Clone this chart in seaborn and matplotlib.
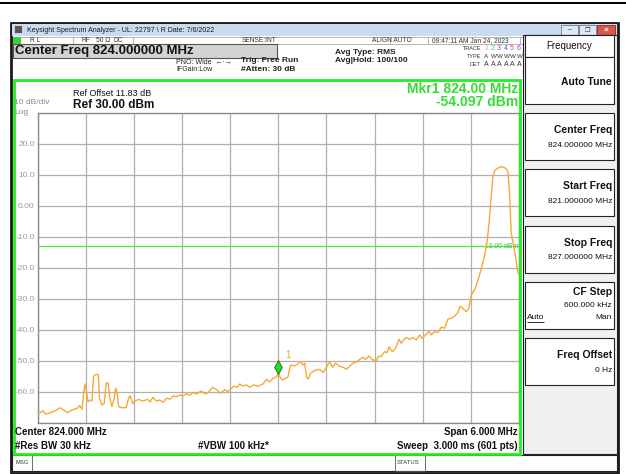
import matplotlib
matplotlib.use('Agg')
import matplotlib.pyplot as plt
import seaborn as sns
from matplotlib.patches import Rectangle
from matplotlib.path import Path

# trace 1 (MHz, dBm)
freq_mhz = [821.000, 821.068, 821.097, 821.159, 821.222, 821.284, 821.326, 821.376, 821.429, 821.492,
            821.525, 821.554, 821.575, 821.591, 821.607, 821.629, 821.657, 821.678, 821.700, 821.732,
            821.757, 821.774, 821.803, 821.832, 821.856, 821.878, 821.899, 821.927, 821.956, 821.973,
            821.990, 822.011, 822.052, 822.105, 822.135, 822.155, 822.185, 822.217, 822.260, 822.313,
            822.372, 822.404, 822.438, 822.479, 822.525, 822.566, 822.608, 822.649, 822.691, 822.733,
            822.774, 822.815, 822.857, 822.898, 822.940, 822.982, 823.023, 823.044, 823.085, 823.126,
            823.181, 823.231, 823.281, 823.334, 823.368, 823.405, 823.446, 823.487, 823.521, 823.562,
            823.604, 823.645, 823.695, 823.749, 823.811, 823.853, 823.894, 823.935, 823.978, 824.000,
            824.040, 824.060, 824.122, 824.152, 824.206, 824.276, 824.309, 824.330, 824.351, 824.371,
            824.401, 824.433, 824.476, 824.517, 824.558, 824.600, 824.641, 824.675, 824.716, 824.757,
            824.807, 824.849, 824.890, 824.931, 824.981, 825.015, 825.056, 825.089, 825.131, 825.173,
            825.223, 825.243, 825.285, 825.326, 825.355, 825.380, 825.422, 825.463, 825.504, 825.534,
            825.554, 825.596, 825.637, 825.678, 825.720, 825.762, 825.795, 825.836, 825.877, 825.907,
            825.948, 825.990, 826.032, 826.073, 826.114, 826.156, 826.197, 826.238, 826.268, 826.300,
            826.343, 826.375, 826.405, 826.446, 826.487, 826.530, 826.571, 826.600, 826.625, 826.650,
            826.674, 826.699, 826.736, 826.778, 826.819, 826.848, 826.861, 826.882, 826.903, 826.944,
            826.986, 827.000]
level_dbm = [-67.4, -66.0, -67.1, -66.7, -66.0, -65.1, -65.8, -66.7, -65.8, -65.3,
             -64.4, -65.6, -60.4, -57.4, -59.4, -63.1, -62.6, -62.9, -54.8, -54.3,
             -54.5, -62.0, -64.2, -63.7, -57.2, -57.0, -61.5, -64.7, -62.0, -58.8,
             -59.9, -64.7, -65.1, -65.0, -62.0, -61.2, -63.7, -62.9, -62.4, -62.9,
             -62.4, -63.2, -61.7, -62.9, -62.6, -63.3, -62.0, -62.3, -61.3, -61.5,
             -61.0, -61.2, -60.6, -61.0, -60.2, -60.6, -59.9, -59.7, -60.6, -60.2,
             -58.5, -59.2, -60.4, -59.2, -59.9, -59.2, -58.1, -58.5, -57.4, -58.1,
             -57.7, -58.5, -57.7, -58.1, -57.4, -55.9, -56.7, -55.6, -55.1, -54.1,
             -55.9, -56.1, -55.1, -51.3, -51.6, -50.2, -51.3, -50.7, -55.1, -55.9,
             -54.0, -53.4, -52.9, -52.7, -53.7, -52.0, -50.2, -52.0, -50.7, -51.6,
             -52.0, -52.7, -51.6, -50.7, -50.2, -49.5, -48.8, -49.5, -48.4, -49.5,
             -50.2, -48.6, -48.4, -47.0, -47.3, -45.4, -47.0, -45.9, -43.0, -44.3,
             -43.4, -42.4, -43.0, -42.4, -43.2, -41.6, -42.7, -41.6, -40.5, -41.6,
             -40.5, -40.8, -39.1, -39.4, -36.5, -36.2, -35.5, -34.4, -32.3, -33.0,
             -34.1, -33.0, -28.7, -27.1, -24.1, -20.3, -16.0, -12.0, -6.0, 2.0,
             9.5, 11.5, 12.2, 12.7, 12.4, 11.8, 11.0, 4.2, -8.7, -14.2,
             -21.6, -22.0]

y_ticks = [30, 20, 10, 0, -10, -20, -30, -40, -50, -60, -70]
y_labels = ['', '20.0', '10.0', '0.00', '-10.0', '-20.0', '-30.0', '-40.0', '-50.0', '-60.0', '']
x_ticks = [821.0, 821.6, 822.2, 822.8, 823.4, 824.0, 824.6, 825.2, 825.8, 826.4, 827.0]
mkr_freq = 824.0
mkr_level = -54.097
display_line = -13.0

softkeys = [('Auto Tune', ''), ('Center Freq', '824.000000 MHz'), ('Start Freq', '821.000000 MHz'),
            ('Stop Freq', '827.000000 MHz'), ('CF Step', '600.000 kHz'), ('Freq Offset', '0 Hz')]

sns.set_style('white')
plt.rcParams['font.family'] = ['Liberation Sans', 'DejaVu Sans']

W, H = 626, 474
fig = plt.figure(figsize=(W / 100, H / 100), dpi=100)


def box(x, y, w, h, fc='none', ec='none', lw=1, z=-1):
    fig.add_artist(Rectangle((x / W, 1 - (y + h) / H), w / W, h / H, transform=fig.transFigure,
                             facecolor=fc, edgecolor=ec, linewidth=lw, zorder=z))


def txt(x, y, s, **kw):
    kw.setdefault('va', 'center')
    fig.text(x / W, 1 - y / H, s, **kw)


# screen frame
box(0, 2, W, 2, fc='black')
box(11, 23, 607, 450, fc='white', ec='#1a1a1a', lw=2, z=-2)
box(12, 24, 605, 12, fc='#c8dbef')
box(15, 26, 7, 7, fc='#555555')
txt(27, 30, 'Keysight Spectrum Analyzer - UL: 22797 \\ R Date: 7/6/2022', size=5, color='#1a1a1a')
box(561, 25, 17, 10, fc='#dde8f4', ec='#6b7c90', lw=0.6)
box(579, 25, 17, 10, fc='#dde8f4', ec='#6b7c90', lw=0.6)
box(597, 25, 18, 10, fc='#d9574b', ec='#8a2a22', lw=0.6)
txt(569.5, 30, '–', size=5, ha='center', color='#333')
txt(587.5, 30, '❐', size=4.5, ha='center', color='#333')
txt(606, 30, '×', size=6, ha='center', color='white', weight='bold')

# status row
box(13, 37, 510, 7, fc='white', ec='#999999', lw=0.5)
box(13, 37, 8, 7, fc='#3bd13b')
for sx in [73, 133, 390, 428, 520]:
    box(sx, 37, 0, 7, ec='#999999', lw=0.5)
for sx, s in [(30, 'R L'), (82, 'RF'), (96, '50 Ω'), (114, 'DC'), (242, 'SENSE:INT'),
              (372, 'ALIGN AUTO'), (432, '09:47:11 AM Jan 24, 2023')]:
    txt(sx, 40.5, s, size=4.8, color='#333333')
box(13, 44, 264, 14, fc='#d3d3d3', ec='#555555', lw=0.8)
txt(15, 51, 'Center Freq 824.000000 MHz', size=9.5, weight='bold', color='#111111')

txt(176, 62, 'PNO: Wide  ←·→', size=5, color='#222222')
txt(176, 69.5, 'IFGain:Low', size=5, color='#222222')
txt(241, 60.5, 'Trig: Free Run', size=6, weight='bold', color='#222222')
txt(241, 69.5, '#Atten: 30 dB', size=6, weight='bold', color='#222222')
txt(335, 52, 'Avg Type: RMS', size=6, weight='bold', color='#222222')
txt(335, 60.5, 'Avg|Hold: 100/100', size=6, weight='bold', color='#222222')
txt(481, 49, 'TRACE', size=4, ha='right', color='#333333')
txt(481, 57, 'TYPE', size=4, ha='right', color='#333333')
txt(481, 65, 'DET', size=4, ha='right', color='#333333')
for i, c in enumerate(['#f5a623', '#33cccc', '#cc33cc', '#3366ff', '#ff3366', '#9933ff']):
    txt(484 + i * 6.5, 49, str(i + 1), size=5, color=c)
    txt(484 + i * 6.5, 57, 'A' if i == 0 else 'W', size=4.5, color='#333333')
    txt(484 + i * 6.5, 65, 'A', size=5, color='#333333')

# right soft key panel
box(523, 35, 94, 419, fc='#f0f0f0', ec='#222222', lw=0.8)
box(525, 35, 89, 22, fc='white', ec='#222222', lw=0.8)
txt(569, 46, 'Frequency', size=7, ha='center', color='#111111')
for i, (name, val) in enumerate(softkeys):
    top = 57 + i * 56.2
    box(525, top, 89, 47, fc='white', ec='#222222', lw=0.8)
    if name == 'CF Step':
        txt(612, top + 10, name, size=7.5, weight='bold', ha='right', color='#111111')
        txt(612, top + 24, val, size=6, ha='right', color='#111111')
        txt(527, top + 36, 'Auto', size=6, color='#111111')
        box(527, top + 40.5, 17, 0, ec='#111111', lw=0.6)
        txt(612, top + 36, 'Man', size=6, ha='right', color='#111111')
    elif val:
        txt(612, top + 17, name, size=7.5, weight='bold', ha='right', color='#111111')
        txt(612, top + 32, val, size=6, ha='right', color='#111111')
    else:
        txt(612, top + 25, name, size=7.5, weight='bold', ha='right', color='#111111')

# msg bar
box(12, 455, 605, 16, fc='white', ec='#222222', lw=0.8)
box(32, 455, 0, 16, ec='#555555', lw=0.6)
box(395, 455, 30, 16, ec='#555555', lw=0.6)
txt(15, 463, 'MSG', size=4.2, color='#333333')
txt(397, 463, 'STATUS', size=4.2, color='#333333')

# trace window
box(13.5, 80, 506.5, 374, ec='#22ee22', lw=2, z=3)
txt(73, 94, 'Ref Offset 11.83 dB', size=6.5, color='#111111')
txt(73, 104.5, 'Ref 30.00 dBm', size=8.5, weight='bold', color='#111111')
txt(14, 103, '10 dB/div', size=6, color='#888888')
txt(14, 112.5, 'Log', size=6, color='#888888')
txt(518, 89, 'Mkr1 824.00 MHz', size=10, weight='bold', ha='right', color='#33dd33')
txt(518, 101.5, '-54.097 dBm', size=10, weight='bold', ha='right', color='#33dd33')
txt(15, 432, 'Center 824.000 MHz', size=7, weight='bold', color='#111111')
txt(518, 432, 'Span 6.000 MHz', size=7, weight='bold', ha='right', color='#111111')
txt(15, 446, '#Res BW 30 kHz', size=7, weight='bold', color='#111111')
txt(198, 446, '#VBW 100 kHz*', size=7, weight='bold', color='#111111')
txt(518, 446, 'Sweep  3.000 ms (601 pts)', size=7, weight='bold', ha='right', color='#111111')

ax = fig.add_axes([37.5 / W, 1 - 423 / H, (519 - 37.5) / W, 310 / H], zorder=2)
ax.set_xlim(821, 827)
ax.set_ylim(-70, 30)
ax.set_xticks(x_ticks)
ax.set_xticklabels([])
ax.set_yticks(y_ticks)
ax.set_yticklabels(y_labels)
ax.tick_params(length=0, labelsize=6, labelcolor='#999999', pad=2)
ax.grid(True, color='#b0b0b0', lw=0.9)
for sp in ax.spines.values():
    sp.set_color('#8a8a8a')
    sp.set_linewidth(1)

ax.axhline(display_line, color='#44ee44', lw=0.9, zorder=3)
ax.text(0.998, display_line, '-13.00 dBm', transform=ax.get_yaxis_transform(), ha='right',
        va='center', size=5, color='#33cc33', zorder=3)

sns.lineplot(x=freq_mhz, y=level_dbm, ax=ax, color='#f7a836', lw=1, estimator=None, zorder=4)

diamond = Path([(0, 0), (0.55, 1), (0, 2), (-0.55, 1), (0, 0)])
ax.plot([mkr_freq], [mkr_level], marker=diamond, markersize=20, color='#22dd22',
        markeredgecolor='#1d6b1d', markeredgewidth=0.6, zorder=5)
ax.annotate('1', (mkr_freq, mkr_level), xytext=(5, 11), textcoords='offset points',
            color='#f5a623', size=7, zorder=5)
ax.set_xlabel('')
ax.set_ylabel('')

fig.savefig('out.png', dpi=100)
